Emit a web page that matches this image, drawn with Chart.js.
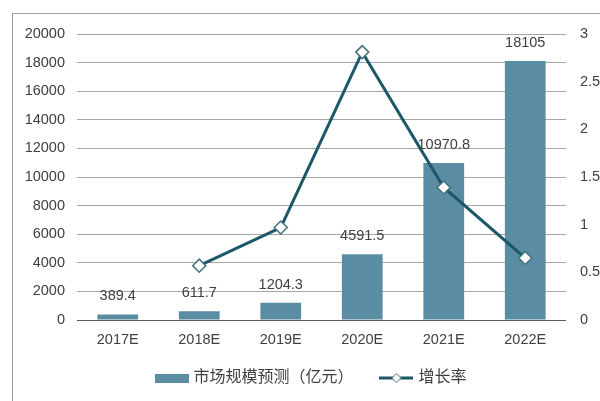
<!DOCTYPE html>
<html>
<head>
<meta charset="utf-8">
<script src="https://cdn.jsdelivr.net/npm/chart.js@4/dist/chart.umd.min.js"></script>
<style>
  html, body { margin: 0; padding: 0; background: #fff; }
  #wrap { width: 600px; height: 401px; }
</style>
</head>
<body>
<div id="wrap"><canvas id="chart"></canvas></div>
<script>
const years = ['2017E', '2018E', '2019E', '2020E', '2021E', '2022E'];
const marketSize = [389.4, 611.7, 1204.3, 4591.5, 10970.8, 18105];
const growthRate = [null, 0.57, 0.97, 2.81, 1.39, 0.65];
const barLabel = '市场规模预测（亿元）';
const lineLabel = '增长率';

const barColor = '#5a8da3';
const lineColor = '#1c5868';
const textColor = '#404040';
const fontFamily = '"Liberation Sans", Arial, "Noto Sans CJK SC", sans-serif';

// legend swatches
function barSwatch() {
    const c = document.createElement('canvas');
    c.width = 34; c.height = 9;
    const g = c.getContext('2d');
    g.fillStyle = barColor;
    g.fillRect(0, 0, 34, 9);
    return c;
}

function lineSwatch() {
    const c = document.createElement('canvas');
    c.width = 34; c.height = 12;
    const g = c.getContext('2d');
    g.strokeStyle = lineColor;
    g.lineWidth = 3;
    g.beginPath();
    g.moveTo(0, 6); g.lineTo(34, 6);
    g.stroke();
    g.beginPath();
    g.moveTo(17, 1.5); g.lineTo(21.5, 6); g.lineTo(17, 10.5); g.lineTo(12.5, 6); g.closePath();
    g.fillStyle = '#fff';
    g.fill();
    g.lineWidth = 1;
    g.strokeStyle = '#44707d';
    g.stroke();
    return c;
}

const framePlugin = {
    id: 'frame',
    beforeDraw(chart) {
        const ctx = chart.ctx;
        ctx.save();
        ctx.fillStyle = '#fff';
        ctx.fillRect(0, 0, chart.width, chart.height);
        ctx.strokeStyle = '#a0a0a0';
        ctx.lineWidth = 1;
        ctx.strokeRect(12.5, 13.5, 700, 500);
        ctx.restore();
    }
};

const valueLabels = {
    id: 'valueLabels',
    afterDatasetsDraw(chart) {
        const ctx = chart.ctx;
        const meta = chart.getDatasetMeta(0);
        ctx.save();
        ctx.font = '14.5px ' + fontFamily;
        ctx.fillStyle = textColor;
        ctx.textAlign = 'center';
        ctx.textBaseline = 'middle';
        meta.data.forEach((bar, i) => {
            ctx.fillText(String(marketSize[i]), bar.x, bar.y - 18);
        });
        ctx.restore();
    }
};

new Chart(document.getElementById('chart'), {
    data: {
        labels: years,
        datasets: [
            {
                type: 'bar',
                label: barLabel,
                data: marketSize,
                backgroundColor: barColor,
                yAxisID: 'y',
                barPercentage: 0.5,
                categoryPercentage: 1,
                order: 1
            },
            {
                type: 'line',
                label: lineLabel,
                data: growthRate,
                borderColor: lineColor,
                borderWidth: 3,
                pointStyle: 'rectRot',
                pointRadius: 6.5,
                pointBackgroundColor: '#fff',
                pointBorderColor: '#44707d',
                pointBorderWidth: 1.5,
                tension: 0,
                yAxisID: 'y1',
                order: 0
            }
        ]
    },
    options: {
        responsive: true,
        maintainAspectRatio: false,
        animation: false,
        layout: { padding: { top: 34, left: 24, right: 0, bottom: 5 } },
        plugins: {
            tooltip: { enabled: false },
            legend: {
                position: 'bottom',
                labels: {
                    usePointStyle: true,
                    pointStyleWidth: 28,
                    padding: 20,
                    color: textColor,
                    font: { size: 16, family: fontFamily },
                    generateLabels: () => [
                        { text: barLabel + '  ', pointStyle: barSwatch(), fillStyle: barColor, strokeStyle: barColor, lineWidth: 0, hidden: false, datasetIndex: 0, fontColor: textColor },
                        { text: lineLabel, pointStyle: lineSwatch(), fillStyle: '#fff', strokeStyle: lineColor, lineWidth: 0, hidden: false, datasetIndex: 1, fontColor: textColor }
                    ]
                }
            }
        },
        scales: {
            x: {
                offset: true,
                grid: { display: false, drawTicks: false },
                border: { display: false },
                ticks: { color: textColor, padding: 11, font: { size: 14.5, family: fontFamily } },
                afterFit: s => { s.height = 30; }
            },
            y: {
                position: 'left',
                min: 0,
                max: 20000,
                border: { display: false },
                grid: {
                    drawTicks: false,
                    color: c => c.tick && c.tick.value === 0 ? '#595959' : '#a6a6a6'
                },
                ticks: {
                    stepSize: 2000,
                    padding: 12,
                    color: textColor,
                    font: { size: 14.5, family: fontFamily },
                    callback: v => String(v)
                },
                afterFit: s => { s.width = 53; }
            },
            y1: {
                position: 'right',
                min: 0,
                max: 3,
                border: { display: false },
                grid: { drawOnChartArea: false, drawTicks: false },
                ticks: {
                    stepSize: 0.5,
                    padding: 14,
                    color: textColor,
                    font: { size: 14.5, family: fontFamily },
                    callback: v => String(v)
                },
                afterFit: s => { s.width = 34; }
            }
        }
    },
    plugins: [framePlugin, valueLabels]
});
</script>
</body>
</html>
